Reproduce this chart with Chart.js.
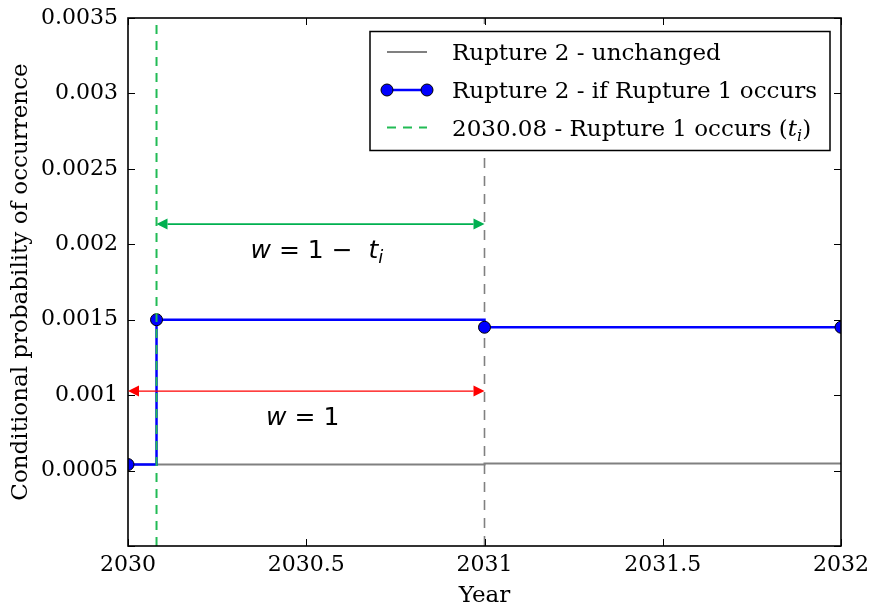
<!DOCTYPE html>
<html>
<head>
<meta charset="utf-8">
<script src="https://cdn.jsdelivr.net/npm/chart.js@4.4.1/dist/chart.umd.min.js"></script>
<style>
  html, body { margin: 0; padding: 0; background: #fff; }
  #wrap { width: 869px; height: 609px; }
</style>
</head>
<body>
<div id="wrap"><canvas id="chart" width="869" height="609"></canvas></div>
<script>
const years = [2030, 2030.08, 2031, 2032];
const ifRupture1 = [0.00054, 0.0015, 0.00145, 0.00145];
const unchangedYears = [2030, 2031, 2032];
const unchanged = [0.00054, 0.000547, 0.000547];
const rupture1Time = 2030.08;
const yearMark = 2031;
const xTicks = [2030, 2030.5, 2031, 2031.5, 2032];
const yTicks = [0, 0.0005, 0.001, 0.0015, 0.002, 0.0025, 0.003, 0.0035];
// double arrows: [from, to, y]
const greenSpan = [2030.08, 2031, 0.002134];
const redSpan = [2030, 2031, 0.001027];
// label anchors: [x centre, y baseline]
const greenNote = [2030.53, 0.00191];
const redNote = [2030.49, 0.000801];
const legendLabels = ['Rupture 2 - unchanged', 'Rupture 2 - if Rupture 1 occurs', '2030.08 - Rupture 1 occurs ('];

const serif = "'DejaVu Serif', serif";
const mathFont = "'DejaVu Sans', sans-serif";
const GREEN = '#22bb55';
const BLUE = '#0000ff';
const GRAY = '#808080';

const toPts = (xs, ys) => xs.map((x, i) => ({ x: x, y: ys[i] }));
const yTop = yTicks[yTicks.length - 1];

// draw a run of text pieces (italic / subscript), centred on cx or starting at 0
function drawPieces(ctx, pieces, cx, baseline, size, family) {
  const fontOf = p => (p.it ? 'italic ' : '') + (p.sub ? Math.round(size * 0.7) : size) + 'px ' + family;
  let total = 0;
  pieces.forEach(p => { ctx.font = fontOf(p); total += ctx.measureText(p.t).width; });
  let x = cx === null ? 0 : cx - total / 2;
  ctx.textAlign = 'left';
  ctx.textBaseline = 'alphabetic';
  pieces.forEach(p => {
    ctx.font = fontOf(p);
    ctx.fillText(p.t, x, baseline + (p.sub ? size * 0.22 : 0));
    x += ctx.measureText(p.t).width;
  });
  return total;
}

function doubleArrow(ctx, x1, x2, y, color, lw) {
  const head = 11, half = 5.5;
  ctx.save();
  ctx.strokeStyle = color;
  ctx.fillStyle = color;
  ctx.lineWidth = lw;
  ctx.beginPath();
  ctx.moveTo(x1 + head, y);
  ctx.lineTo(x2 - head, y);
  ctx.stroke();
  ctx.beginPath();
  ctx.moveTo(x1, y); ctx.lineTo(x1 + head, y - half); ctx.lineTo(x1 + head, y + half); ctx.closePath();
  ctx.fill();
  ctx.beginPath();
  ctx.moveTo(x2, y); ctx.lineTo(x2 - head, y - half); ctx.lineTo(x2 - head, y + half); ctx.closePath();
  ctx.fill();
  ctx.restore();
}

const framePlugin = {
  id: 'frame',
  afterDatasetsDraw(chart) {
    const { ctx, chartArea: a, scales: { x, y } } = chart;
    ctx.save();
    ctx.strokeStyle = '#000';
    ctx.lineWidth = 1;
    ctx.beginPath();
    xTicks.forEach(v => {
      const px = Math.round(x.getPixelForValue(v)) + 0.5;
      ctx.moveTo(px, a.bottom); ctx.lineTo(px, a.bottom - 7);
      ctx.moveTo(px, a.top); ctx.lineTo(px, a.top + 7);
    });
    yTicks.forEach(v => {
      const py = Math.round(y.getPixelForValue(v)) + 0.5;
      ctx.moveTo(a.left, py); ctx.lineTo(a.left + 7, py);
      ctx.moveTo(a.right, py); ctx.lineTo(a.right - 7, py);
    });
    ctx.stroke();
    ctx.lineWidth = 1.6;
    ctx.strokeRect(a.left, a.top, a.right - a.left, a.bottom - a.top);

    // span arrows and their labels
    doubleArrow(ctx, x.getPixelForValue(greenSpan[0]), x.getPixelForValue(greenSpan[1]), y.getPixelForValue(greenSpan[2]), '#00b050', 1.8);
    doubleArrow(ctx, x.getPixelForValue(redSpan[0]), x.getPixelForValue(redSpan[1]), y.getPixelForValue(redSpan[2]), '#ff0000', 1.2);
    ctx.fillStyle = '#000';
    drawPieces(ctx, [{ t: 'w', it: true }, { t: ' = 1 \u2212  ' }, { t: 't', it: true }, { t: 'i', it: true, sub: true }],
      x.getPixelForValue(greenNote[0]), y.getPixelForValue(greenNote[1]), 25, mathFont);
    drawPieces(ctx, [{ t: 'w', it: true }, { t: ' = 1' }],
      x.getPixelForValue(redNote[0]), y.getPixelForValue(redNote[1]), 25, mathFont);
    ctx.restore();
  },
  afterDraw(chart) {
    // legend box
    const ctx = chart.ctx;
    const bx = 370, by = 31.5, bw = 460, bh = 119;
    ctx.save();
    ctx.fillStyle = '#fff';
    ctx.fillRect(bx, by, bw, bh);
    ctx.strokeStyle = '#000';
    ctx.lineWidth = 1.5;
    ctx.strokeRect(bx, by, bw, bh);
    const rows = [52, 90, 127.5];
    const sx1 = 387, sx2 = 427, tx = 452;
    // gray line
    ctx.strokeStyle = GRAY; ctx.lineWidth = 2;
    ctx.beginPath(); ctx.moveTo(sx1, rows[0]); ctx.lineTo(sx2, rows[0]); ctx.stroke();
    // blue line with markers
    ctx.strokeStyle = BLUE; ctx.lineWidth = 2.5;
    ctx.beginPath(); ctx.moveTo(sx1, rows[1]); ctx.lineTo(sx2, rows[1]); ctx.stroke();
    [sx1, sx2].forEach(px => {
      ctx.beginPath(); ctx.arc(px, rows[1], 6, 0, Math.PI * 2);
      ctx.fillStyle = BLUE; ctx.fill();
      ctx.strokeStyle = '#000'; ctx.lineWidth = 1; ctx.stroke();
    });
    // green dashed
    ctx.strokeStyle = GREEN; ctx.lineWidth = 2; ctx.setLineDash([9, 7]);
    ctx.beginPath(); ctx.moveTo(sx1, rows[2]); ctx.lineTo(sx2, rows[2]); ctx.stroke();
    ctx.setLineDash([]);
    ctx.fillStyle = '#000';
    ctx.translate(tx, 0);
    drawPieces(ctx, [{ t: legendLabels[0] }], null, rows[0] + 8, 23, serif);
    drawPieces(ctx, [{ t: legendLabels[1] }], null, rows[1] + 8, 23, serif);
    drawPieces(ctx, [{ t: legendLabels[2] }, { t: 't', it: true }, { t: 'i', it: true, sub: true }, { t: ')' }], null, rows[2] + 8, 23, serif);
    ctx.restore();
  }
};

const ctx = document.getElementById('chart').getContext('2d');
new Chart(ctx, {
  type: 'line',
  data: {
    datasets: [
      {
        label: 'Rupture 1 occurs',
        data: [{ x: rupture1Time, y: 0 }, { x: rupture1Time, y: yTop }],
        borderColor: GREEN, borderWidth: 2, borderDash: [9, 7],
        pointRadius: 0, order: 0, clip: 0
      },
      {
        label: 'Rupture 2 - if Rupture 1 occurs',
        data: toPts(years, ifRupture1),
        borderColor: BLUE, borderWidth: 2.5, stepped: 'before',
        pointRadius: 6, pointBackgroundColor: BLUE, pointBorderColor: '#000', pointBorderWidth: 1,
        order: 1, clip: 0
      },
      {
        label: 'year mark',
        data: [{ x: yearMark, y: 0 }, { x: yearMark, y: yTop }],
        borderColor: GRAY, borderWidth: 1.6, borderDash: [10, 8],
        pointRadius: 0, order: 2, clip: 0
      },
      {
        label: 'Rupture 2 - unchanged',
        data: toPts(unchangedYears, unchanged),
        borderColor: GRAY, borderWidth: 2, stepped: 'before',
        pointRadius: 0, order: 3, clip: 0
      }
    ]
  },
  options: {
    responsive: false,
    animation: false,
    layout: { padding: { top: 18, right: 28, left: 0, bottom: 0 } },
    plugins: { legend: { display: false }, tooltip: { enabled: false } },
    scales: {
      x: {
        type: 'linear',
        min: xTicks[0], max: xTicks[xTicks.length - 1],
        afterBuildTicks: s => { s.ticks = xTicks.map(v => ({ value: v })); },
        afterFit: s => { s.height = 63; s.paddingLeft = 0; s.paddingRight = 0; },
        grid: { display: false, drawTicks: false },
        border: { display: false },
        ticks: { color: '#000', font: { family: serif, size: 22 }, padding: 6, maxRotation: 0, callback: v => String(v) },
        title: { display: true, text: 'Year', color: '#000', font: { family: serif, size: 23, lineHeight: 1 }, padding: { top: 0, bottom: 1 } }
      },
      y: {
        min: yTicks[0], max: yTop,
        afterBuildTicks: s => { s.ticks = yTicks.map(v => ({ value: v })); },
        afterFit: s => { s.width = 128; s.paddingTop = 0; s.paddingBottom = 0; },
        grid: { display: false, drawTicks: false },
        border: { display: false },
        ticks: { color: '#000', font: { family: serif, size: 22 }, padding: 10, callback: v => v === 0 ? '' : String(parseFloat(v.toFixed(4))) },
        title: { display: true, text: 'Conditional probability of occurrence', color: '#000', font: { family: serif, size: 23 }, padding: { top: 7 } }
      }
    }
  },
  plugins: [framePlugin]
});
</script>
</body>
</html>
